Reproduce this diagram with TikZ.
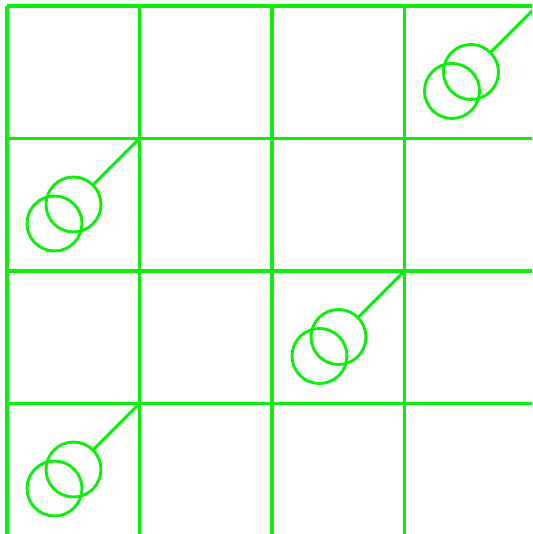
\documentclass[tikz,border=0pt]{standalone}
\definecolor{grn}{RGB}{10,240,10}
\tikzset{
  gridline/.style={draw=grn, line width=3.1pt},
  coil/.style={draw=grn, line width=2.9pt},
  lead/.style={draw=grn, line width=2.9pt}
}
\begin{document}
\begin{tikzpicture}[x=1pt,y=-1pt]
\useasboundingbox (0,0) rectangle (532,534);
\clip (0,0) rectangle (532,534);
\foreach \x in {7,139.5,272,404.5,537} \draw[gridline] (\x,6) -- (\x,545);
\foreach \y in {6,138.5,271,403.5,536} \draw[gridline] (7,\y) -- (545,\y);
\foreach \n/\px/\py in {a/537/6, b/139.5/138.5, c/404.5/271, d/139.5/403.5} {
  \coordinate (\n) at (\px,\py);
  \coordinate (\n up) at (\px-66,\py+66);
  \coordinate (\n lo) at (\px-85,\py+85);
  \coordinate (\n end) at (\px-46.6,\py+46.6);
  \draw[coil] (\n up) circle[radius=27.5];
  \draw[coil] (\n lo) circle[radius=27.5];
  \draw[lead] (\n) -- (\n end);
}
\end{tikzpicture}
\end{document}
